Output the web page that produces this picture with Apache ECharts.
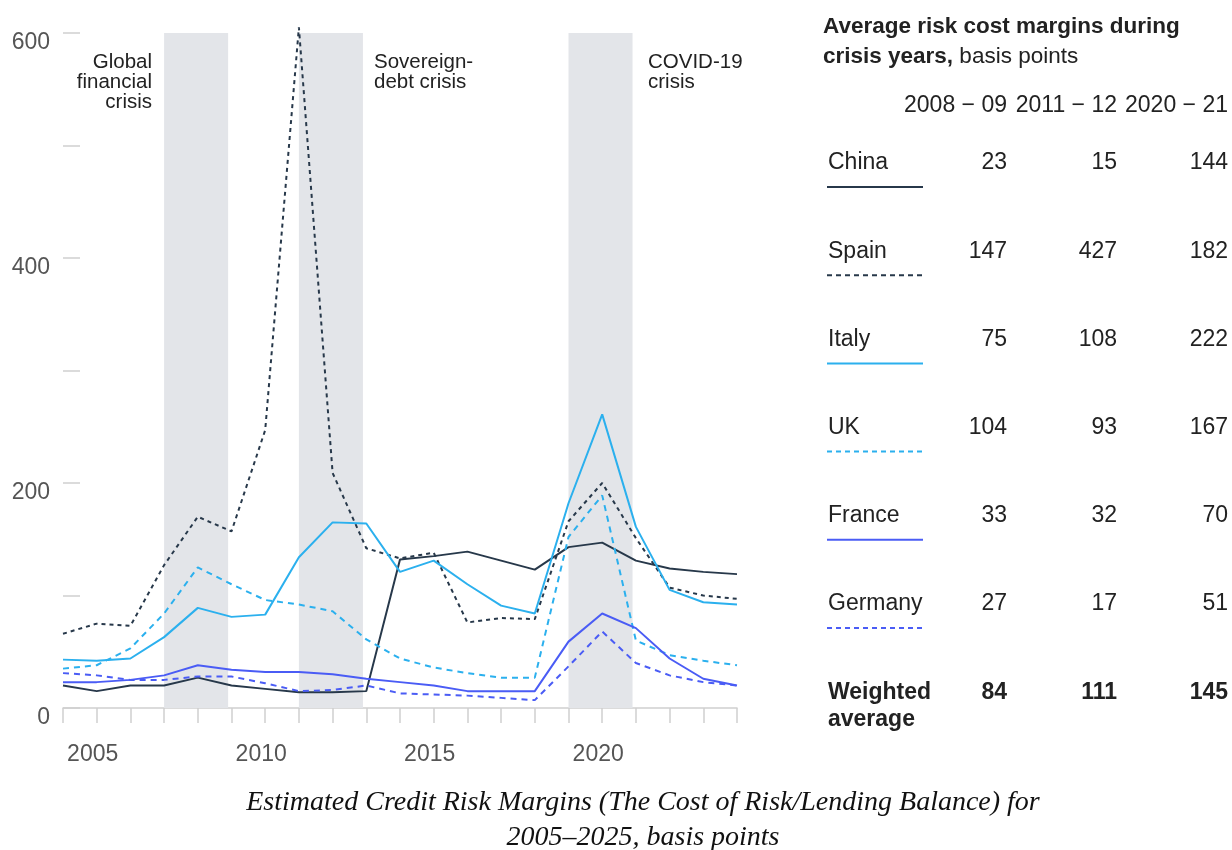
<!DOCTYPE html>
<html>
<head>
<meta charset="utf-8">
<script src="https://cdn.jsdelivr.net/npm/echarts@6/dist/echarts.min.js"></script>
<style>
html,body{margin:0;padding:0;background:#fff;}
#main{width:1232px;height:850px;}
</style>
</head>
<body>
<div id="main"></div>
<script>
// ---------- data ----------
var years   = [2004,2005,2006,2007,2008,2009,2010,2011,2012,2013,2014,2015,2016,2017,2018,2019,2020,2021,2022,2023,2024];
var china   = [20,15,20,20,27,20,17,14,14,15,132,135,139,131,123,143,147,131,124,121,119];
var spain   = [66,75,73,127,170,157,247,605,209,142,133,138,76,80,79,166,200,151,107,100,97];
var italy   = [43,42,44,63,89,81,83,134,165,164,121,131,110,91,84,182,261,161,105,94,92];
var uk      = [35,38,53,84,125,110,96,92,86,61,44,36,31,27,27,152,189,60,47,42,38];
var france  = [23,23,25,29,38,34,32,32,30,26,23,20,15,15,15,59,84,71,44,26,20];
var germany = [31,29,25,25,28,28,22,15,16,20,13,12,11,9,7,37,68,40,29,23,20];

var crisisStart = [2007, 2011, 2019];
var crisisEnd   = [2008.9, 2012.9, 2020.9];
var crisisTop   = 605;
var crisisLabels = ['Global\nfinancial\ncrisis', 'Sovereign-\ndebt crisis', 'COVID-19\ncrisis'];

var yTicks = [0, 200, 400, 600];

var tableTitleBold = 'Average risk cost margins during';
var tableTitleBold2 = 'crisis years,';
var tableTitleRest = ' basis points';
var tableCols = ['2008 \u2212 09', '2011 \u2212 12', '2020 \u2212 21'];
var tableRows = ['China', 'Spain', 'Italy', 'UK', 'France', 'Germany', 'Weighted\naverage'];
var col0809 = [23, 147, 75, 104, 33, 27, 84];
var col1112 = [15, 427, 108, 93, 32, 17, 111];
var col2021 = [144, 182, 222, 167, 70, 51, 145];

var captionLines = ['Estimated Credit Risk Margins (The Cost of Risk/Lending Balance) for', '2005–2025, basis points'];

// ---------- styles ----------
var DARK = '#27384a', LIGHT = '#2bb0ee', BLUE = '#4a5cf5';
var FONT = '"Liberation Sans", Arial, sans-serif';

function pairs(arr){ return years.map(function(y,i){ return [y, arr[i]]; }); }

var seriesDefs = [
  {name:'China',   data:china,   color:DARK,  dash:'solid'},
  {name:'Spain',   data:spain,   color:DARK,  dash:[4,4]},
  {name:'Italy',   data:italy,   color:LIGHT, dash:'solid'},
  {name:'UK',      data:uk,      color:LIGHT, dash:[6,5]},
  {name:'France',  data:france,  color:BLUE,  dash:'solid'},
  {name:'Germany', data:germany, color:BLUE,  dash:[6,5]}
];

var series = [{
  type:'line', data:[], silent:true, z:1, clip:false,
  markArea:{
    silent:true,
    itemStyle:{color:'#e3e5e9'},
    data: crisisStart.map(function(s,i){ return [{xAxis:s, yAxis:0},{xAxis:crisisEnd[i], yAxis:crisisTop}]; })
  }
}];
seriesDefs.forEach(function(d){
  series.push({
    name:d.name, type:'line', data:pairs(d.data), showSymbol:false, symbol:'none',
    clip:false, z:3,
    lineStyle:{color:d.color, width:2, type:d.dash},
    itemStyle:{color:d.color}
  });
});

// ---------- right-hand table ----------
var graphics = [];
graphics.push({type:'text', x:823, y:27, style:{text:tableTitleBold, font:'bold 22.5px '+FONT, fill:'#222', verticalAlign:'middle'}});
graphics.push({type:'text', x:823, y:57, style:{
  text:'{b|'+tableTitleBold2+'}{n|'+tableTitleRest+'}', verticalAlign:'middle',
  rich:{b:{font:'bold 22.5px '+FONT, fill:'#222'}, n:{font:'22.5px '+FONT, fill:'#222'}}
}});
var colRight = [1007, 1117, 1228];
tableCols.forEach(function(c,i){
  graphics.push({type:'text', x:colRight[i], y:106, style:{text:c, font:'23px '+FONT, fill:'#222', align:'right', verticalAlign:'middle'}});
});
var rowY0 = 161, rowStep = 88.2;
var colVals = [col0809, col1112, col2021];
tableRows.forEach(function(r,i){
  var y = rowY0 + i*rowStep;
  var ty = y + 2;
  var last = (i === tableRows.length-1);
  var f = (last ? 'bold ' : '') + '23px ' + FONT;
  if (last) {
    graphics.push({type:'text', x:828, y:ty-13, style:{text:r, font:f, fill:'#222', verticalAlign:'top', lineHeight:27}});
  } else {
    graphics.push({type:'text', x:828, y:ty, style:{text:r, font:f, fill:'#222', verticalAlign:'middle'}});
  }
  colVals.forEach(function(cv,j){
    graphics.push({type:'text', x:colRight[j], y:ty, style:{text:String(cv[i]), font:f, fill:'#222', align:'right', verticalAlign:'middle'}});
  });
  if (!last) {
    var d = seriesDefs[i];
    graphics.push({type:'line', shape:{x1:827, y1:y+26, x2:923, y2:y+26},
      style:{stroke:d.color, lineWidth:2, lineDash: d.dash === 'solid' ? null : [5,4]}});
  }
});

// crisis annotations
graphics.push({type:'text', x:152, y:52, style:{text:crisisLabels[0], font:'20.5px '+FONT, fill:'#222', align:'right', lineHeight:20}});
graphics.push({type:'text', x:374, y:52, style:{text:crisisLabels[1], font:'20.5px '+FONT, fill:'#222', align:'left', lineHeight:20}});
graphics.push({type:'text', x:648, y:52, style:{text:crisisLabels[2], font:'20.5px '+FONT, fill:'#222', align:'left', lineHeight:20}});

// caption
captionLines.forEach(function(t,i){
  graphics.push({type:'text', x:643, y:803 + i*35, style:{text:t, font:'italic 28px "Liberation Serif", "Times New Roman", serif', fill:'#111', align:'center', verticalAlign:'middle'}});
});

var chart = echarts.init(document.getElementById('main'), null, {renderer:'canvas'});
chart.setOption({
  animation:false,
  backgroundColor:'#fff',
  grid:{left:63, right:495, top:33, bottom:142, containLabel:false},
  xAxis:{
    type:'value', min:2004, max:2024, interval:1,
    axisLine:{show:true, lineStyle:{color:'#cfcfcf', width:1.5}},
    axisTick:{show:true, length:15, lineStyle:{color:'#cfcfcf', width:1.5}},
    splitLine:{show:false},
    axisLabel:{
      margin:35, color:'#555', fontSize:23, fontFamily:FONT,
      formatter:function(v){ return (v % 5 === 0) ? '{a|' + v + '}' : ''; },
      rich:{a:{color:'#555', fontSize:23, fontFamily:FONT, padding:[0,8,0,0]}}
    }
  },
  yAxis:{
    type:'value', min:0, max:600, interval:100,
    axisLine:{show:false},
    axisTick:{show:true, inside:true, length:17, lineStyle:{color:'#cfcfcf', width:1.5}},
    splitLine:{show:false},
    axisLabel:{
      margin:13, color:'#555', fontSize:23, fontFamily:FONT,
      formatter:function(v){ return yTicks.indexOf(v) >= 0 ? '{a|' + v + '}' : ''; },
      rich:{a:{color:'#555', fontSize:23, fontFamily:FONT, padding:[20,0,0,0]}}
    }
  },
  series: series,
  graphic: graphics
});
</script>
</body>
</html>
